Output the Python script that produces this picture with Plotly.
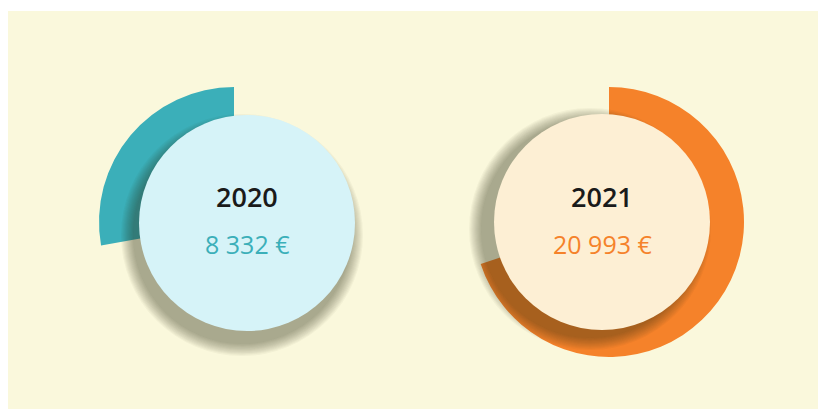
import plotly.graph_objects as go

# data
years = ["2020", "2021"]
totals = [8332, 20993]
max_total = 30000
arc_colors = ["#3BAFB9", "#F5822A"]
inner_colors = ["#D6F3F8", "#FDEFD4"]
# 2020 arc grows anticlockwise from 12 o'clock, 2021 arc clockwise
grow_ccw = [True, False]

W, H = 826, 409
BG = "#FAF8DC"
PAGE_MARGIN = 8  # browser body margin shifts the plot

# pixel geometry (screen coords) of each gauge
arc_c = [(234, 222), (609, 222)]
arc_r = 135
inner_c = [(247, 223), (602, 222)]
inner_r = 108
shadow_off = [(-5, 12), (-12, 7)]


def px_x(x):
    return (x - PAGE_MARGIN) / W


def px_y(y):
    return 1 - (y - PAGE_MARGIN) / H


def fmt_eur(v):
    return f"{v:,}".replace(",", " ") + " €"


fig = go.Figure()

for i, year in enumerate(years):
    cx, cy = arc_c[i]
    rest = max_total - totals[i]
    if grow_ccw[i]:
        vals = [rest, totals[i]]
        cols = ["rgba(0,0,0,0)", arc_colors[i]]
    else:
        vals = [totals[i], rest]
        cols = [arc_colors[i], "rgba(0,0,0,0)"]
    fig.add_trace(go.Pie(
        values=vals,
        marker=dict(colors=cols, line=dict(width=0)),
        sort=False,
        direction="clockwise",
        rotation=0,
        hole=0.6,
        textinfo="none",
        hoverinfo="skip",
        showlegend=False,
        domain=dict(x=[px_x(cx - arc_r), px_x(cx + arc_r)],
                    y=[px_y(cy + arc_r), px_y(cy - arc_r)]),
    ))

# thin white band at the top, the rest of the paper is the cream card
shapes = [dict(type="rect", xref="paper", yref="paper", layer="below",
               x0=0, x1=1, y0=px_y(11), y1=1,
               fillcolor="white", line=dict(width=0))]

annotations = []
for i, year in enumerate(years):
    cx, cy = inner_c[i]
    dx, dy = shadow_off[i]
    # soft shadow from stacked translucent circles
    n = 12
    spread = 13
    for k in range(n):
        r = inner_r + spread * (1 - k / n)
        shapes.append(dict(type="circle", xref="paper", yref="paper", layer="above",
                           x0=px_x(cx + dx - r), x1=px_x(cx + dx + r),
                           y0=px_y(cy + dy + r), y1=px_y(cy + dy - r),
                           fillcolor="rgba(50,50,15,0.04)", line=dict(width=0)))
    shapes.append(dict(type="circle", xref="paper", yref="paper", layer="above",
                       x0=px_x(cx - inner_r), x1=px_x(cx + inner_r),
                       y0=px_y(cy + inner_r), y1=px_y(cy - inner_r),
                       fillcolor=inner_colors[i], line=dict(width=0)))
    annotations.append(dict(x=px_x(cx), y=px_y(197), xref="paper", yref="paper",
                            xanchor="center", yanchor="middle",
                            text=year, showarrow=False,
                            font=dict(family="Open Sans", size=27, weight=600, color="#1A1A1A")))
    annotations.append(dict(x=px_x(cx), y=px_y(244), xref="paper", yref="paper",
                            xanchor="center", yanchor="middle",
                            text=fmt_eur(totals[i]), showarrow=False,
                            font=dict(family="Open Sans", size=25, weight=400, color=arc_colors[i])))

fig.update_layout(
    width=W, height=H,
    margin=dict(l=0, r=0, t=0, b=0),
    paper_bgcolor=BG,
    plot_bgcolor=BG,
    shapes=shapes,
    annotations=annotations,
)

fig.write_html("out.html")
